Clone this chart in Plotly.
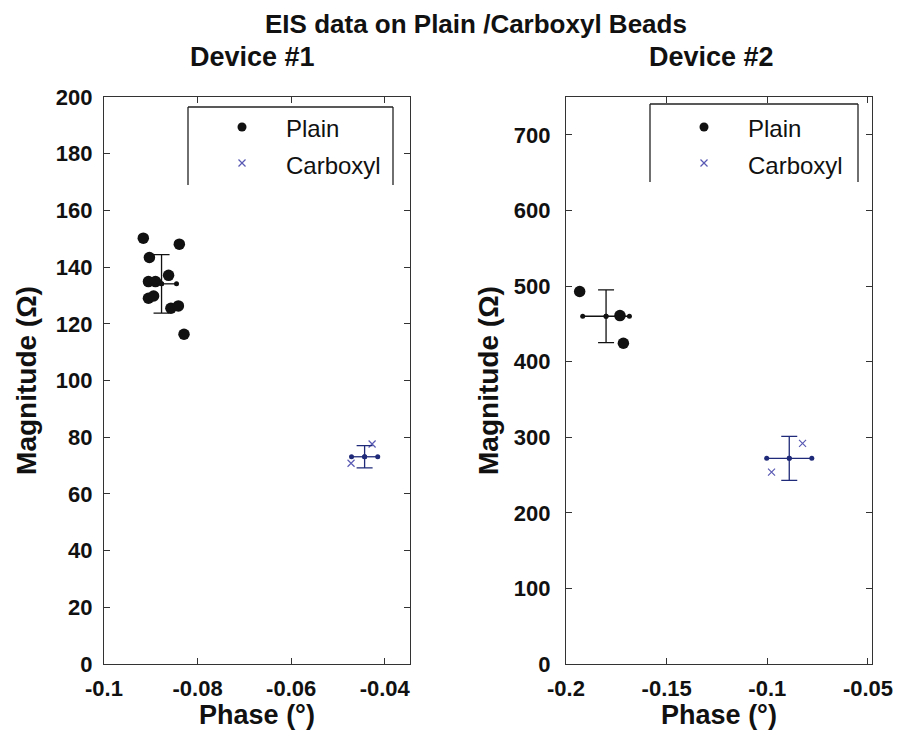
import plotly.graph_objects as go

# ---------------- data ----------------
# Device #1
d1_plain_phase = [-0.0916, -0.0839, -0.0903, -0.0862, -0.0905, -0.0890, -0.0905, -0.0894, -0.0857, -0.0841, -0.0829]
d1_plain_mag = [150.2, 148.1, 143.4, 137.1, 134.9, 134.9, 129.0, 129.8, 125.5, 126.3, 116.3]
d1_carb_phase = [-0.0427, -0.0472]
d1_carb_mag = [77.6, 70.8]
d1_plain_mean = (-0.0877, 134.1)
d1_plain_err = (0.0032, 10.3)
d1_carb_mean = (-0.0443, 73.1)
d1_carb_err = (0.0028, 3.9)

# Device #2
d2_plain_phase = [-0.1932, -0.1732, -0.1715]
d2_plain_mag = [492.7, 460.9, 424.2]
d2_carb_phase = [-0.0825, -0.0979]
d2_carb_mag = [291.8, 253.8]
d2_plain_mean = (-0.1801, 460.0)
d2_plain_err = (0.0116, 35.0)
d2_carb_mean = (-0.0891, 272.0)
d2_carb_err = (0.0112, 29.0)

d1_xticks = [-0.1, -0.08, -0.06, -0.04]
d1_xticklabels = ["-0.1", "-0.08", "-0.06", "-0.04"]
d1_yticks = list(range(0, 201, 20))
d2_xticks = [-0.2, -0.15, -0.1, -0.05]
d2_xticklabels = ["-0.2", "-0.15", "-0.1", "-0.05"]
d2_yticks = list(range(0, 701, 100))

FONT = "Liberation Sans, Arial, sans-serif"
BLACK = "#111111"
BLUE = "#5a5ab4"
NAVY = "#1f2a78"

fig = go.Figure()


def add_device(xa, ya, pp, pm, cp, cm, pmean, perr, cmean, cerr):
    fig.add_trace(go.Scatter(x=pp, y=pm, mode="markers", xaxis=xa, yaxis=ya,
                             marker=dict(symbol="circle", size=11.5, color=BLACK),
                             showlegend=False))
    fig.add_trace(go.Scatter(x=cp, y=cm, mode="markers", xaxis=xa, yaxis=ya,
                             marker=dict(symbol="x-thin", size=7, color=BLUE,
                                         line=dict(width=1.2, color=BLUE)),
                             showlegend=False))
    for mean, err, col in [(pmean, perr, BLACK), (cmean, cerr, NAVY)]:
        fig.add_trace(go.Scatter(x=[mean[0]], y=[mean[1]], mode="markers",
                                 xaxis=xa, yaxis=ya,
                                 marker=dict(size=5, color=col),
                                 error_y=dict(type="data", array=[err[1]], color=col,
                                              thickness=1.3, width=8),
                                 showlegend=False))
        fig.add_trace(go.Scatter(x=[mean[0] - err[0], mean[0], mean[0] + err[0]],
                                 y=[mean[1]] * 3, mode="lines+markers",
                                 xaxis=xa, yaxis=ya,
                                 line=dict(color=col, width=1.3),
                                 marker=dict(size=5, color=col),
                                 showlegend=False))


add_device("x", "y", d1_plain_phase, d1_plain_mag, d1_carb_phase, d1_carb_mag,
           d1_plain_mean, d1_plain_err, d1_carb_mean, d1_carb_err)
add_device("x2", "y2", d2_plain_phase, d2_plain_mag, d2_carb_phase, d2_carb_mag,
           d2_plain_mean, d2_plain_err, d2_carb_mean, d2_carb_err)

# page has an 8px body margin: size the figure to fit the window and offset coordinates
OFF = 8
W, H = 904 - OFF, 735 - OFF


def px(x):
    return (x - OFF) / W


def py(y):
    return 1 - (y - OFF) / H


ydom = [py(664), py(97)]
axis_common = dict(showgrid=False, zeroline=False, showline=True, linecolor="#333333",
                   linewidth=1.2, mirror="ticks", ticks="inside", ticklen=6,
                   tickcolor="#333333", automargin=False,
                   tickfont=dict(family=FONT, size=22, color=BLACK, weight="bold"))

xtitle_font = dict(family=FONT, size=27, color=BLACK, weight="bold")
ytitle_font = dict(family=FONT, size=28, color=BLACK, weight="bold")

fig.update_layout(
    width=W, height=H,
    margin=dict(l=0, r=0, t=0, b=0),
    paper_bgcolor="white", plot_bgcolor="white",
    showlegend=False,
    xaxis=dict(domain=[px(104), px(410)], range=[-0.1, -0.0346],
               tickvals=d1_xticks, ticktext=d1_xticklabels, anchor="y",
               ticklabelstandoff=4,
               title=dict(text="Phase (°)", standoff=3, font=xtitle_font),
               **axis_common),
    yaxis=dict(domain=ydom, range=[0, 200], tickvals=d1_yticks, anchor="x",
               ticklabelstandoff=6,
               title=dict(text="Magnitude (Ω)", standoff=10, font=ytitle_font),
               **axis_common),
    xaxis2=dict(domain=[px(566), px(872)], range=[-0.2, -0.048],
                tickvals=d2_xticks, ticktext=d2_xticklabels, anchor="y2",
                ticklabelstandoff=4,
                title=dict(text="Phase (°)", standoff=3, font=xtitle_font),
                **axis_common),
    yaxis2=dict(domain=ydom, range=[0, 750], tickvals=d2_yticks, anchor="x2",
                ticklabelstandoff=10,
                title=dict(text="Magnitude (Ω)", standoff=6, font=ytitle_font),
                **axis_common),
)


def label(text, x, y, size, bold=True, xanchor="center", yanchor="middle"):
    fig.add_annotation(text=text, x=px(x), y=py(y), xref="paper", yref="paper",
                       xanchor=xanchor, yanchor=yanchor, showarrow=False, borderpad=0,
                       font=dict(family=FONT, size=size, color=BLACK,
                                 weight="bold" if bold else "normal"))


# titles
label("EIS data on Plain /Carboxyl Beads", 476, 8, 26, yanchor="top")
label("Device #1", 189, 57, 27, xanchor="left")
label("Device #2", 648, 57, 27, xanchor="left")

# legend boxes (open at bottom)
legends = [(188, 393, 107, 185), (650, 858, 104, 182)]
for (l, r, t, b) in legends:
    for (x0, y0, x1, y1) in [(l, b, l, t), (l, t, r, t), (r, t, r, b)]:
        fig.add_shape(type="line", xref="paper", yref="paper",
                      x0=px(x0), y0=py(y0), x1=px(x1), y1=py(y1),
                      line=dict(color="#222222", width=1.3))
    mx = l + 54
    fig.add_shape(type="circle", xref="paper", yref="paper",
                  x0=px(mx - 4.5), x1=px(mx + 4.5), y0=py(127 - 4.5), y1=py(127 + 4.5),
                  fillcolor=BLACK, line=dict(color=BLACK, width=0))
    cy = 163
    for s in (1, -1):
        fig.add_shape(type="line", xref="paper", yref="paper",
                      x0=px(mx - 3.5), y0=py(cy - 3.5 * s), x1=px(mx + 3.5), y1=py(cy + 3.5 * s),
                      line=dict(color=BLUE, width=1.2))
    label("Plain", l + 97, 128, 24, bold=False, xanchor="left")
    label("Carboxyl", l + 97, 165, 24, bold=False, xanchor="left")

fig.write_html("out.html")
